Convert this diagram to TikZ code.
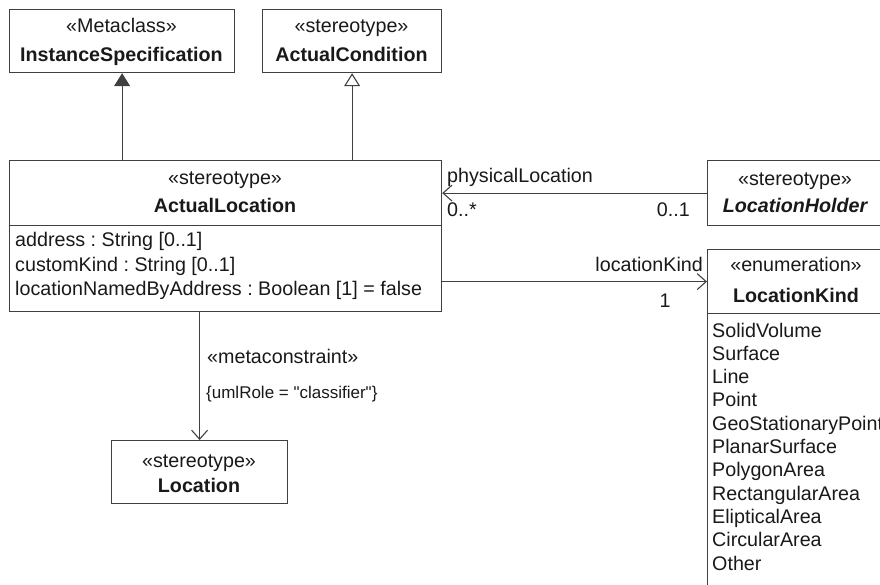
\documentclass[tikz,border=0pt]{standalone}
\usepackage{fontspec}
\setmainfont{Liberation Sans}
\usetikzlibrary{arrows.meta}
\frenchspacing

\begin{document}
\begin{tikzpicture}[x=1pt, y=-1pt,
        font=\fontsize{19.7}{23}\selectfont,
        umlbox/.style={draw=black!75, line width=1.2pt, anchor=north west, inner sep=0pt},
        txt/.style={text=black!90, inner sep=0pt},
        gen/.style={draw=black!75, line width=1.1pt, -{Triangle[length=13pt, width=16pt, fill=black!75]}},
        real/.style={draw=black!75, line width=1.1pt, -{Triangle[open, length=13pt, width=16pt, fill=white]}},
        assoc/.style={draw=black!75, line width=1.1pt, -{Straight Barb[length=9pt, width=16pt]}}]

            % Fix the page and cut off what runs over the edge
            \path[use as bounding box] (0,0) rectangle (880,585);
            \clip (0,0) rectangle (880,585);

            % Draw the boxes
            \node[umlbox, minimum width=225pt, minimum height=63pt] (spec) at (9,9) {};
            \node[umlbox, minimum width=179pt, minimum height=63pt] (cond) at (262,9) {};
            \node[umlbox, minimum width=432pt, minimum height=65pt] (lochead) at (9,160) {};
            \node[umlbox, minimum width=432pt, minimum height=86pt] (locattr) at (9,225) {};
            \node[umlbox, minimum width=177pt, minimum height=65pt] (holder) at (707,160) {};
            \node[umlbox, minimum width=178pt, minimum height=64pt] (kindhead) at (707,249) {};
            \node[umlbox, minimum width=178pt, minimum height=300pt] (kindlist) at (707,313) {};
            \node[umlbox, minimum width=176pt, minimum height=63pt] (location) at (111,440) {};

            % Draw the names in the boxes
            \node[txt, anchor=base] (specst) at (121.5,33) {«Metaclass»};
            \node[txt, anchor=base] (specname) at (121.5,62) {\bfseries InstanceSpecification};
            \node[txt, anchor=base] (condst) at (351.5,33) {«stereotype»};
            \node[txt, anchor=base] (condname) at (351.5,62) {\bfseries ActualCondition};
            \node[txt, anchor=base] (locst) at (225,185) {«stereotype»};
            \node[txt, anchor=base] (locname) at (225,213) {\bfseries ActualLocation};
            \node[txt, anchor=base] (holderst) at (795,186) {«stereotype»};
            \node[txt, anchor=base] (holdername) at (795,213) {\bfseries\itshape LocationHolder};
            \node[txt, anchor=base] (kindst) at (796,272) {«enumeration»};
            \node[txt, anchor=base] (kindname) at (796,302) {\bfseries LocationKind};
            \node[txt, anchor=base] (locationst) at (199,467) {«stereotype»};
            \node[txt, anchor=base] (locationname) at (199,492) {\bfseries Location};

            % Draw the attributes
            \node[txt, anchor=base west] (attra) at (15,247) {address : String [0..1]};
            \node[txt, anchor=base west] (attrb) at (15,271) {customKind : String [0..1]};
            \node[txt, anchor=base west] (attrc) at (15,295) {locationNamedByAddress : Boolean [1] = false};

            % Draw the literals
            \node[txt, anchor=base west] (lita) at (712,337) {SolidVolume};
            \node[txt, anchor=base west] (litb) at (712,360.3) {Surface};
            \node[txt, anchor=base west] (litc) at (712,383.6) {Line};
            \node[txt, anchor=base west] (litd) at (712,406.9) {Point};
            \node[txt, anchor=base west] (lite) at (712,430.2) {GeoStationaryPoint};
            \node[txt, anchor=base west] (litf) at (712,453.5) {PlanarSurface};
            \node[txt, anchor=base west] (litg) at (712,476.8) {PolygonArea};
            \node[txt, anchor=base west] (lith) at (712,500.1) {RectangularArea};
            \node[txt, anchor=base west] (liti) at (712,523.4) {ElipticalArea};
            \node[txt, anchor=base west] (litj) at (712,546.7) {CircularArea};
            \node[txt, anchor=base west] (litk) at (712,570) {Other};

            % Draw the generalizations
            \draw[gen] (lochead.north -| spec.south) -- (spec.south);
            \draw[real] (lochead.north -| cond.south) -- (cond.south);

            % Draw the associations
            \draw[assoc] (holder.west) -- (holder.west -| lochead.east);
            \draw[assoc] (kindhead.west -| locattr.east) -- (kindhead.west);
            \draw[assoc] (locattr.south -| location.north) -- (location.north);

            % Draw the end labels
            \node[txt, anchor=base west] (physlbl) at (447,183) {physicalLocation};
            \node[txt, anchor=base west] (physmany) at (447,217) {0..*};
            \node[txt, anchor=base east] (physone) at (690,217) {0..1};
            \node[txt, anchor=base east] (kindlbl) at (703,272) {locationKind};
            \node[txt, anchor=base] (kindone) at (665,307) {1};
            \node[txt, anchor=base west] (metalbl) at (207,363) {«metaconstraint»};
            \node[txt, anchor=base west, font=\fontsize{17}{20}\selectfont] (rolelbl) at (206,398) {\{umlRole = \textquotedbl classifier\textquotedbl\}};

        \end{tikzpicture}
\end{document}
